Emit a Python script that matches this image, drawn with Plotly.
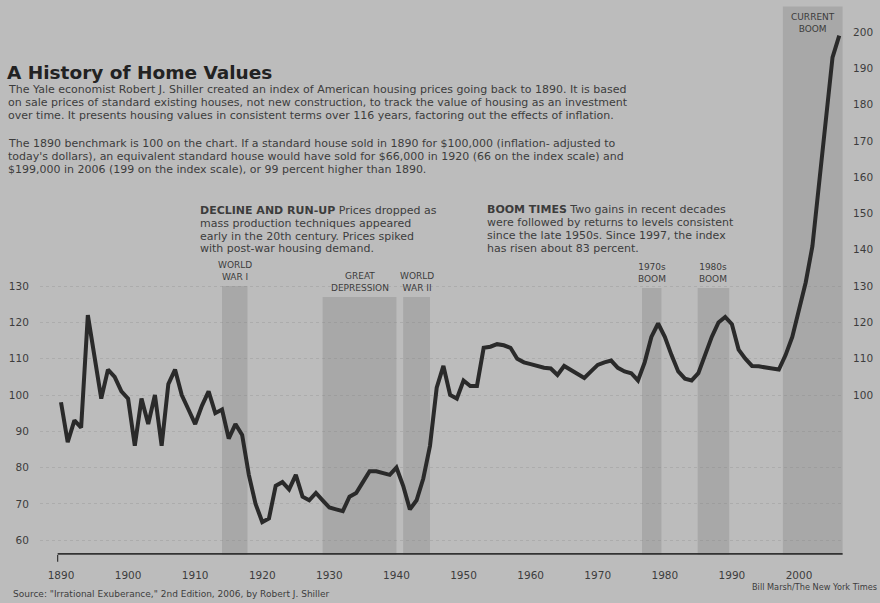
import plotly.graph_objects as go

# ---------------- data ----------------
years = list(range(1890, 2007))
index_values = [
    98, 87, 93, 91, 122, 110, 99, 107, 105, 101,          # 1890s
    99, 86, 99, 92, 100, 86, 103, 107, 100, 96,           # 1900s
    92, 97, 101, 95, 96, 88, 92, 89, 78, 70,              # 1910s
    65, 66, 75, 76, 74, 78, 72, 71, 73, 71,               # 1920s
    69, 68.5, 68, 72, 73, 76, 79, 79, 78.5, 78,           # 1930s
    80, 75, 68.5, 71, 77, 86, 102, 108, 100, 99,          # 1940s
    104, 102.5, 102.5, 113, 113.3, 114, 113.7, 113, 110, 109,   # 1950s
    108.5, 108, 107.5, 107.3, 105.5, 108, 107, 106, 104.7, 106.5,  # 1960s
    108.3, 109, 109.5, 107.5, 106.5, 106, 104, 109, 116, 119.7,   # 1970s
    116, 111, 106.5, 104.5, 104, 106, 111, 116, 120, 121.5,       # 1980s
    119.5, 112.5, 110, 108, 107.9, 107.5, 107.3, 107, 111, 116,   # 1990s
    123, 131, 141, 158, 177, 193, 199,                            # 2000s
]

x_tick_years = [1890, 1900, 1910, 1920, 1930, 1940, 1950, 1960, 1970, 1980, 1990, 2000]
left_ticks = [60, 70, 80, 90, 100, 110, 120, 130]
right_ticks = [100, 110, 120, 130, 140, 150, 160, 170, 180, 190, 200]

band_names = ["WORLD<br>WAR I", "GREAT<br>DEPRESSION", "WORLD<br>WAR II",
              "1970s<br>BOOM", "1980s<br>BOOM", "CURRENT<br>BOOM"]
band_start = [1914, 1929, 1941, 1976.6, 1984.9, 1997.6]
band_end = [1917.8, 1940, 1945, 1979.5, 1989.6, 2006.5]
band_top = [130, 127, 127, 129.5, 129.5, 207]

title_text = "A History of Home Values"
intro_lines = [
    "The Yale economist Robert J. Shiller created an index of American housing prices going back to 1890. It is based",
    "on sale prices of standard existing houses, not new construction, to track the value of housing as an investment",
    "over time. It presents housing values in consistent terms over 116 years, factoring out the effects of inflation.",
]
bench_lines = [
    "The 1890 benchmark is 100 on the chart. If a standard house sold in 1890 for $100,000 (inflation- adjusted to",
    "today's dollars), an equivalent standard house would have sold for $66,000 in 1920 (66 on the index scale) and",
    "$199,000 in 2006 (199 on the index scale), or 99 percent higher than 1890.",
]
decline_lines = [
    "<b>DECLINE AND RUN-UP</b> Prices dropped as",
    "mass production techniques appeared",
    "early in the 20th century. Prices spiked",
    "with post-war housing demand.",
]
boom_lines = [
    "<b>BOOM TIMES</b> Two gains in recent decades",
    "were followed by returns to levels consistent",
    "since the late 1950s. Since 1997, the index",
    "has risen about 83 percent.",
]
source_text = 'Source: "Irrational Exuberance," 2nd Edition, 2006, by Robert J. Shiller'
credit_text = "Bill Marsh/The New York Times"

# ---------------- layout geometry ----------------
W, H = 880, 603
L, R, T, B = 40, 36, 0, 48
PW, PH = W - L - R, H - T - B
PX_PER_YEAR = 6.709
X0 = 1890 - (61 - L) / PX_PER_YEAR
X1 = X0 + PW / PX_PER_YEAR
PX_PER_UNIT = 3.63
Y100 = 395
YMAX = 100 + (Y100 - T) / PX_PER_UNIT
YMIN = 100 - (H - B - Y100) / PX_PER_UNIT


def pxx(x):
    return (x - L) / PW


def pxy(y):
    return (H - B - y) / PH


BG = "#bcbcbc"
BAND = "#a8a8a8"
INK = "#2a2a2a"
TXT = "#3c3c3c"
FONT = "DejaVu Sans"
BODY = 11

fig = go.Figure()
fig.add_trace(go.Scatter(
    x=years, y=index_values, mode="lines",
    line=dict(color=INK, width=4), showlegend=False, hoverinfo="x+y",
))
fig.add_trace(go.Scatter(
    x=years, y=index_values, mode="lines", yaxis="y2",
    line=dict(color="rgba(0,0,0,0)", width=0), showlegend=False, hoverinfo="skip",
))

shapes = []
for s, e, top in zip(band_start, band_end, band_top):
    shapes.append(dict(type="rect", xref="x", yref="y", x0=s, x1=e, y0=YMIN, y1=top,
                       fillcolor=BAND, line=dict(width=0), layer="below"))
shapes.append(dict(type="line", xref="x", yref="y", x0=1889.5, x1=2006.5, y0=YMIN + 0.3, y1=YMIN + 0.3,
                   line=dict(color="#333333", width=1.6)))
shapes.append(dict(type="line", xref="x", yref="paper", x0=1889.5, x1=1889.5, y0=0, y1=-0.012,
                   line=dict(color="#333333", width=1.2)))

annotations = []


def add_text(text, x, y, size, color=TXT, anchor="left"):
    annotations.append(dict(text=text, x=pxx(x), y=pxy(y), xref="paper", yref="paper",
                            xanchor=anchor, yanchor="middle", showarrow=False, borderpad=0,
                            font=dict(family=FONT, size=size, color=color)))


add_text("<b>" + title_text + "</b>", 6, 72, 18.5, "#222222")
for i, t in enumerate(intro_lines):
    add_text(t, 7, 89 + 13 * i, BODY)
for i, t in enumerate(bench_lines):
    add_text(t, 7, 143 + 13 * i, BODY)
for i, t in enumerate(decline_lines):
    add_text(t, 199, 210 + 13 * i, BODY)
for i, t in enumerate(boom_lines):
    add_text(t, 486, 209 + 13 * i, BODY)

for name, s, e, top in zip(band_names, band_start, band_end, band_top):
    inside = top > 200
    annotations.append(dict(text=name, x=(s + e) / 2, y=top, xref="x", yref="y",
                            xanchor="center", yanchor="top" if inside else "bottom",
                            showarrow=False, yshift=-3 if inside else 2,
                            font=dict(family=FONT, size=9, color=TXT)))

add_text(source_text, 12, 594, 9)
add_text(credit_text, 878, 587, 8.2, anchor="right")

fig.update_layout(
    width=W, height=H,
    margin=dict(l=L, r=R, t=T, b=B, pad=0),
    paper_bgcolor=BG, plot_bgcolor=BG,
    showlegend=False,
    shapes=shapes, annotations=annotations,
    xaxis=dict(range=[X0, X1], tickvals=x_tick_years, ticktext=[str(v) for v in x_tick_years],
               showgrid=False, zeroline=False, showline=False,
               ticks="outside", ticklen=10, tickcolor="rgba(0,0,0,0)",
               tickfont=dict(family=FONT, size=10.5, color=TXT), fixedrange=True),
    yaxis=dict(range=[YMIN, YMAX], tickvals=left_ticks, ticktext=[str(v) for v in left_ticks],
               showgrid=True, gridcolor="rgba(120,120,120,0.22)", griddash="dot", gridwidth=1,
               zeroline=False, showline=False,
               ticks="outside", ticklen=8, tickcolor="rgba(0,0,0,0)",
               tickfont=dict(family=FONT, size=10.5, color=TXT), fixedrange=True),
    yaxis2=dict(range=[YMIN, YMAX], overlaying="y", side="right", tickvals=right_ticks,
                ticktext=[str(v) for v in right_ticks], showgrid=False, zeroline=False, showline=False,
                ticks="outside", ticklen=6, tickcolor="rgba(0,0,0,0)",
                tickfont=dict(family=FONT, size=10.5, color=TXT), fixedrange=True),
)

fig.write_html(
    "out.html",
    config={"displayModeBar": False},
    post_script="document.body.style.margin='0';document.body.style.background='#bcbcbc';",
)
